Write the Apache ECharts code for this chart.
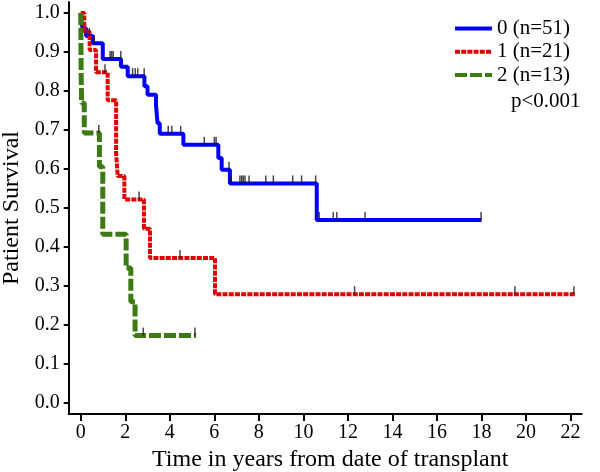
<!DOCTYPE html>
<html><head><meta charset="utf-8">
<script src="https://cdn.jsdelivr.net/npm/echarts@6/dist/echarts.min.js"></script>
<style>html,body{margin:0;padding:0;background:#fff}#c{width:600px;height:472px}</style>
</head><body><div id="c"></div>
<script>
// ---- data ----
const xTickValues = [0, 2, 4, 6, 8, 10, 12, 14, 16, 18, 20, 22];
const yTickValues = [0, 0.1, 0.2, 0.3, 0.4, 0.5, 0.6, 0.7, 0.8, 0.9, 1.0];
const seriesNames = ['0 (n=51)', '1 (n=21)', '2 (n=13)'];

const blueTime = [0, 0.03, 0.08, 0.24, 0.54, 0.99, 1.81, 2.11, 2.86, 3.0, 3.38, 3.45, 3.55, 4.61, 6.18, 6.33, 6.70, 10.6, 18.0];
const blueSurv = [1.0, 0.980, 0.961, 0.941, 0.922, 0.882, 0.862, 0.838, 0.812, 0.790, 0.764, 0.717, 0.690, 0.662, 0.628, 0.598, 0.563, 0.469, 0.469];
const blueCensor = [0.39, 0.6, 1.32, 1.39, 1.46, 1.80, 2.33, 2.45, 2.56, 2.85, 3.93, 4.09, 4.49, 5.55, 6.0, 6.08, 6.66, 6.75, 7.15, 7.23, 7.30, 7.38, 7.56, 8.31, 8.65, 9.52, 9.92, 10.55, 10.71, 11.34, 11.5, 12.77, 17.98];

const redTime = [0, 0.16, 0.40, 0.69, 1.21, 1.59, 1.66, 1.96, 2.84, 3.11, 6.03, 22.2];
const redSurv = [1.0, 0.952, 0.905, 0.848, 0.776, 0.640, 0.582, 0.522, 0.447, 0.372, 0.279, 0.279];
const redCensor = [1.09, 2.62, 4.46, 12.3, 19.5, 22.15];

const greenTime = [0, 0.02, 0.04, 0.16, 0.84, 0.99, 2.04, 2.25, 2.44, 5.18];
const greenSurv = [1.0, 0.846, 0.769, 0.692, 0.606, 0.433, 0.346, 0.260, 0.173, 0.173];
const greenCensor = [0.81, 2.81, 5.13];

// ---- helpers ----
function pairs(t, s) { return t.map((v, i) => [v, s[i]]); }
function levelAt(t, s, x) { let v = s[0]; for (let i = 0; i < t.length; i++) { if (t[i] <= x) v = s[i]; } return v; }
function censorPts(c, t, s) { return c.map(x => [x, levelAt(t, s, x)]); }

const FONT = 'Liberation Serif';
const chart = echarts.init(document.getElementById('c'), null, { renderer: 'canvas' });

function censorSeries(c, t, s) {
  return {
    type: 'scatter', data: censorPts(c, t, s), symbol: 'rect', symbolSize: [1.5, 8], symbolOffset: [0, -4],
    itemStyle: { color: '#1a1a1a' }, z: 10, silent: true, legendHoverLink: false
  };
}

chart.setOption({
  animation: false,
  backgroundColor: '#fff',
  grid: { left: 68.7, right: 18.3, top: 2, bottom: 58, containLabel: false, outerBoundsMode: 'none' },
  legend: {
    data: seriesNames, orient: 'vertical', left: 453, top: 18, padding: 0, itemGap: 2.3,
    itemWidth: 37, itemHeight: 14,
    itemStyle: { opacity: 0 },
    lineStyle: { width: 4 },
    textStyle: { fontFamily: FONT, fontSize: 21, color: '#000' }
  },
  graphic: [{ type: 'text', left: 511, top: 91, style: { text: 'p<0.001', font: '21px "Liberation Serif"', fill: '#000' } }],
  xAxis: {
    type: 'value', min: -0.54, max: 22.5,
    name: 'Time in years from date of transplant', nameLocation: 'middle', nameGap: 24,
    nameTextStyle: { fontFamily: FONT, fontSize: 24, color: '#000', padding: [0, 0, 0, 10] },
    axisLine: { show: true, onZero: false, lineStyle: { color: '#000', width: 2 } },
    axisTick: { show: true, length: 7, lineStyle: { color: '#000', width: 2 }, customValues: xTickValues },
    axisLabel: { fontFamily: FONT, fontSize: 20, color: '#000', margin: 9, customValues: xTickValues },
    splitLine: { show: false }
  },
  yAxis: {
    type: 'value', min: -0.028, max: 1.028,
    name: 'Patient Survival', nameLocation: 'middle', nameGap: 44, nameRotate: 90,
    nameTextStyle: { fontFamily: FONT, fontSize: 24, color: '#000' },
    axisLine: { show: true, onZero: false, lineStyle: { color: '#000', width: 2 } },
    axisTick: { show: true, length: 5, lineStyle: { color: '#000', width: 2 }, customValues: yTickValues },
    axisLabel: { fontFamily: FONT, fontSize: 20, color: '#000', margin: 9, customValues: yTickValues, formatter: v => v.toFixed(1) },
    splitLine: { show: false }
  },
  series: [
    { type: 'line', name: seriesNames[0], step: 'end', symbol: 'none', data: pairs(blueTime, blueSurv),
      lineStyle: { color: '#0000ff', width: 4 }, itemStyle: { color: '#0000ff' } },
    { type: 'line', name: seriesNames[1], step: 'end', symbol: 'none', data: pairs(redTime, redSurv),
      lineStyle: { color: '#e00000', width: 4, type: [5, 1.2] }, itemStyle: { color: '#e00000' } },
    { type: 'line', name: seriesNames[2], step: 'end', symbol: 'none', data: pairs(greenTime, greenSurv),
      lineStyle: { color: '#3c7a14', width: 5, type: [12, 3] }, itemStyle: { color: '#3c7a14' } },
    censorSeries(blueCensor, blueTime, blueSurv),
    censorSeries(redCensor, redTime, redSurv),
    censorSeries(greenCensor, greenTime, greenSurv)
  ]
});
</script></body></html>
